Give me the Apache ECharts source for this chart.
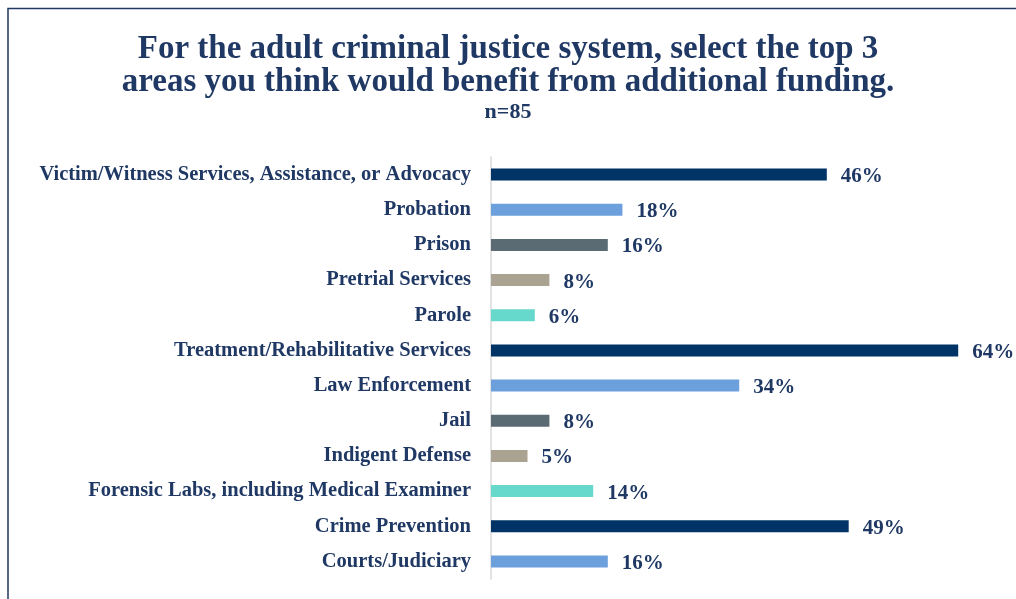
<!DOCTYPE html>
<html><head><meta charset="utf-8">
<script src="https://cdn.jsdelivr.net/npm/echarts@6/dist/echarts.min.js"></script>
<style>html,body{margin:0;padding:0;background:#fff}#c{width:1016px;height:599px}</style>
</head><body><div id="c"></div>
<script>
const categories = [
  "Victim/Witness Services, Assistance, or Advocacy",
  "Probation",
  "Prison",
  "Pretrial Services",
  "Parole",
  "Treatment/Rehabilitative Services",
  "Law Enforcement",
  "Jail",
  "Indigent Defense",
  "Forensic Labs, including Medical Examiner",
  "Crime Prevention",
  "Courts/Judiciary"
];
const values = [46, 18, 16, 8, 6, 64, 34, 8, 5, 14, 49, 16];
const palette = ["#003366", "#6CA0DC", "#5B6B73", "#ABA392", "#66D9CC"];

const chart = echarts.init(document.getElementById('c'));
const navy = '#1F3864';
chart.setOption({
  animation: false,
  backgroundColor: '#fff',
  graphic: [{
    type: 'polyline',
    shape: { points: [[8, 620], [8, 8.5], [1030, 8.5]] },
    style: { stroke: '#1F3864', lineWidth: 1.5, fill: null },
    silent: true
  }],
  title: {
    text: 'For the adult criminal justice system, select the top 3\nareas you think would benefit from additional funding.',
    subtext: 'n=85',
    left: 'center',
    top: 28,
    itemGap: 2,
    textStyle: { fontFamily: 'Liberation Serif', fontWeight: 'bold', fontSize: 33, color: navy, lineHeight: 33 },
    subtextStyle: { fontFamily: 'Liberation Serif', fontWeight: 'bold', fontSize: 22, color: navy }
  },
  grid: { left: 491, top: 157, height: 422, width: 511 },
  xAxis: {
    type: 'value', min: 0, max: 70,
    show: false
  },
  yAxis: {
    type: 'category',
    data: categories,
    inverse: true,
    axisLine: { show: true, lineStyle: { color: '#D9D9D9', width: 1.5 } },
    axisTick: { show: false },
    axisLabel: { margin: 20, fontFamily: 'Liberation Serif', fontWeight: 'bold', fontSize: 20.5, color: navy }
  },
  series: [{
    type: 'bar',
    data: values.map((v, i) => ({ value: v, itemStyle: { color: palette[i % palette.length] } })),
    barWidth: 12,
    label: {
      show: true, position: 'right', distance: 14, offset: [0, 2],
      formatter: p => p.value + '%',
      fontFamily: 'Liberation Serif', fontWeight: 'bold', fontSize: 21, color: navy
    }
  }]
});
</script>
</body></html>
